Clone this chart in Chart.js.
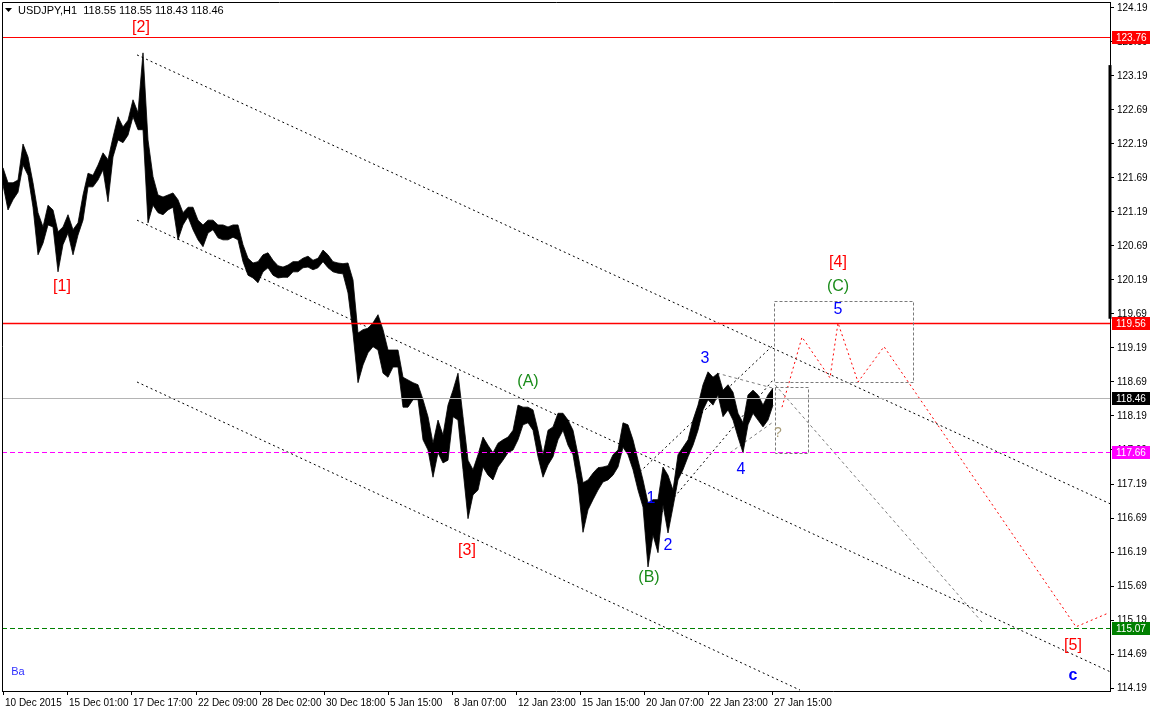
<!DOCTYPE html>
<html>
<head>
<meta charset="utf-8">
<script src="https://cdn.jsdelivr.net/npm/chart.js@4.4.0/dist/chart.umd.min.js"></script>
<style>
  html, body { margin: 0; padding: 0; background: #fff; }
</style>
</head>
<body>
<canvas id="myChart" width="1150" height="713"></canvas>
<script>
// USDJPY H1 - wave count chart

// ✅ Price data (high / low every 5 bars)
const firstBar = 1;
const barStep = 5;
const highs = [
  121.84, 121.62, 121.62, 121.66, 122.19, 122.00, 121.62, 121.18, 120.97, 121.29,
  121.22, 120.90, 120.97, 121.15, 120.93, 121.03, 121.44, 121.76, 121.73, 121.88,
  122.06, 121.96, 122.29, 122.59, 122.44, 122.54, 122.84, 122.65, 123.53, 122.25,
  121.71, 121.44, 121.41, 121.44, 121.47, 121.37, 121.18, 121.26, 121.26, 121.07,
  121.00, 121.07, 121.07, 121.00, 121.00, 120.97, 121.00, 121.00, 120.71, 120.51,
  120.44, 120.46, 120.56, 120.59, 120.48, 120.40, 120.38, 120.41, 120.46, 120.46,
  120.51, 120.54, 120.48, 120.51, 120.63, 120.56, 120.46, 120.44, 120.43, 120.44,
  120.19, 119.41, 119.46, 119.48, 119.56, 119.68, 119.46, 119.16, 119.16, 119.16,
  118.76, 118.72, 118.68, 118.65, 118.43, 118.18, 117.79, 118.13, 117.91, 118.35,
  118.57, 118.82, 118.18, 117.54, 117.40, 117.62, 117.88, 117.76, 117.65, 117.79,
  117.84, 117.88, 117.98, 118.35, 118.32, 118.32, 118.28, 117.98, 117.62, 117.98,
  118.03, 118.23, 118.23, 118.13, 117.98, 117.62, 117.21, 117.25, 117.35, 117.43,
  117.44, 117.46, 117.62, 117.69, 118.09, 118.06, 117.84, 117.54, 117.25, 116.91,
  116.96, 116.96, 117.44, 117.32, 117.10, 117.62, 117.73, 117.84, 118.13, 118.35,
  118.65, 118.84, 118.76, 118.82, 118.57, 118.65, 118.54, 118.23, 118.09, 118.50,
  118.57, 118.50, 118.35, 118.50, 118.60
];
const lows = [
  121.59, 121.22, 121.37, 121.48, 121.88, 121.73, 121.26, 120.56, 120.73, 121.00,
  120.97, 120.31, 120.71, 120.88, 120.56, 120.85, 121.07, 121.56, 121.56, 121.66,
  121.81, 121.34, 122.00, 122.25, 122.21, 122.32, 122.59, 122.40, 122.40, 121.03,
  121.29, 121.18, 121.15, 121.22, 121.26, 120.78, 121.00, 121.12, 120.93, 120.78,
  120.68, 120.88, 120.93, 120.81, 120.78, 120.78, 120.82, 120.78, 120.46, 120.26,
  120.22, 120.15, 120.31, 120.37, 120.26, 120.22, 120.23, 120.23, 120.31, 120.31,
  120.37, 120.38, 120.34, 120.37, 120.46, 120.37, 120.31, 120.29, 120.28, 120.00,
  119.41, 118.68, 118.94, 119.12, 119.21, 119.16, 118.82, 118.76, 118.91, 118.91,
  118.32, 118.32, 118.43, 118.43, 117.84, 117.69, 117.29, 117.65, 117.50, 117.54,
  118.18, 118.13, 117.40, 116.68, 117.03, 117.10, 117.44, 117.32, 117.25, 117.44,
  117.54, 117.65, 117.69, 117.84, 118.06, 118.09, 117.98, 117.59, 117.29, 117.47,
  117.59, 117.84, 117.98, 117.76, 117.62, 117.18, 116.48, 116.81, 116.96, 117.10,
  117.22, 117.25, 117.32, 117.44, 117.73, 117.62, 117.40, 117.10, 116.85, 115.97,
  116.44, 116.18, 116.88, 116.47, 116.85, 117.25, 117.40, 117.59, 117.76, 117.98,
  118.28, 118.43, 118.35, 118.50, 118.18, 118.28, 118.13, 117.88, 117.65, 118.06,
  118.23, 118.13, 118.03, 118.13, 118.35
];

// ✅ Axes
const priceTicks = [114.19, 114.69, 115.19, 115.69, 116.19, 116.69, 117.19, 117.69, 118.19, 118.69,
  119.19, 119.69, 120.19, 120.69, 121.19, 121.69, 122.19, 122.69, 123.19, 123.69, 124.19];
const timeTickBars = [1, 65, 129, 194, 258, 322, 386, 450, 514, 578, 642, 706, 770];
const timeTickLabels = ["10 Dec 2015", "15 Dec 01:00", "17 Dec 17:00", "22 Dec 09:00", "28 Dec 02:00",
  "30 Dec 18:00", "5 Jan 15:00", "8 Jan 07:00", "12 Jan 23:00", "15 Jan 15:00", "20 Jan 07:00",
  "22 Jan 23:00", "27 Jan 15:00"];

// ✅ Horizontal levels
const levelPrices = [123.76, 119.56, 118.46, 117.66, 115.07];
const levelColors = ["rgb(255,0,0)", "rgb(255,0,0)", "rgb(180,180,180)", "rgb(255,0,255)", "rgb(0,128,0)"];
const levelBoxColors = ["#ff0000", "#ff0000", "#000000", "#ff00ff", "#008000"];
const levelWidths = [1, 1.5, 1, 1, 1];
const levelDashes = [[], [], [], [5, 3], [5, 3]];

// ✅ Trend lines [bar1, price1, bar2, price2]
const channelLines = [
  [135, 123.50, 1108, 116.90],
  [135, 121.07, 1108, 114.43],
  [135, 118.69, 798, 114.16],
  [638, 117.37, 771, 119.23],
  [653, 116.66, 771, 118.72],
];
const greyLines = [
  [715, 118.82, 771, 118.60],
  [773, 118.65, 980, 115.16],
  [728, 117.65, 771, 118.10],
];
// Forecast path
const forecastBars = [780, 800, 828, 836, 856, 882, 1074, 1106];
const forecastPrices = [118.32, 119.35, 118.75, 119.56, 118.69, 119.21, 115.09, 115.29];
// Target boxes [bar1, priceTop, bar2, priceBottom]
const targetBoxes = [
  [772, 119.88, 911, 118.69],
  [773, 118.62, 806, 117.65],
];

// ✅ Wave labels
const waveTexts = ["[2]", "[1]", "[3]", "[4]", "(C)", "5", "3", "1", "2", "4", "(A)", "(B)", "?", "[5]", "c", "Ba"];
const waveBars = [139, 60, 465, 836, 836, 836, 703, 649, 666, 739, 526, 647, 776, 1071, 1071, 16];
const wavePrices = [123.90, 120.10, 116.21, 120.44, 120.10, 119.76, 119.04, 116.98, 116.28, 117.40,
  118.69, 115.81, 117.94, 114.82, 114.37, 114.42];
const waveColors = ["#ff0000", "#ff0000", "#ff0000", "#ff0000", "#1a8c1a", "#0000ff", "#0000ff", "#0000ff",
  "#0000ff", "#0000ff", "#1a8c1a", "#1a8c1a", "#a89c78", "#ff0000", "#0000ff", "#3030ff"];

const header = "USDJPY,H1  118.55 118.55 118.43 118.46";
const FONT = "'Liberation Sans', Arial, sans-serif";

const toPoints = (values) => values.map((v, i) => ({ x: firstBar + i * barStep, y: v }));
const segment = (l) => [{ x: l[0], y: l[1] }, { x: l[2], y: l[3] }];

const datasets = [
  { data: toPoints(highs), borderColor: "#000", borderWidth: 0.8, pointRadius: 0, fill: false },
  { data: toPoints(lows), borderColor: "#000", borderWidth: 0.8, pointRadius: 0, fill: "-1", backgroundColor: "#000" },
];
channelLines.forEach((l) => datasets.push({
  data: segment(l), borderColor: "#000", borderWidth: 1, borderDash: [2, 3], pointRadius: 0, fill: false,
}));
greyLines.forEach((l) => datasets.push({
  data: segment(l), borderColor: "#7a7a7a", borderWidth: 1, borderDash: [3, 3], pointRadius: 0, fill: false,
}));
datasets.push({
  data: forecastBars.map((b, i) => ({ x: b, y: forecastPrices[i] })),
  borderColor: "#ff0000", borderWidth: 1, borderDash: [2, 3], pointRadius: 0, fill: false,
});

// Drawing helpers for levels, boxes and labels
const overlay = {
  id: "overlay",
  afterDatasetsDraw(chart) {
    const { ctx, chartArea: a, scales: { x, y } } = chart;
    ctx.save();
    // horizontal levels
    levelPrices.forEach((p, i) => {
      const py = Math.round(y.getPixelForValue(p)) + 0.5;
      ctx.strokeStyle = levelColors[i];
      ctx.lineWidth = levelWidths[i];
      ctx.setLineDash(levelDashes[i]);
      ctx.beginPath();
      ctx.moveTo(a.left, py);
      ctx.lineTo(a.right, py);
      ctx.stroke();
    });
    // target boxes
    ctx.strokeStyle = "#7a7a7a";
    ctx.lineWidth = 1;
    ctx.setLineDash([3, 2]);
    targetBoxes.forEach((b) => {
      const x1 = Math.round(x.getPixelForValue(b[0])) + 0.5;
      const x2 = Math.round(x.getPixelForValue(b[2])) + 0.5;
      const y1 = Math.round(y.getPixelForValue(b[1])) + 0.5;
      const y2 = Math.round(y.getPixelForValue(b[3])) + 0.5;
      ctx.strokeRect(x1, y1, x2 - x1, y2 - y1);
    });
    ctx.setLineDash([]);
    // wave labels
    ctx.textAlign = "center";
    ctx.textBaseline = "middle";
    waveTexts.forEach((t, i) => {
      let f = "16px " + FONT;
      if (t === "c") f = "bold 16px " + FONT;
      if (t === "Ba") f = "11px " + FONT;
      if (t === "?") f = "14px " + FONT;
      ctx.font = f;
      ctx.fillStyle = waveColors[i];
      ctx.fillText(t, x.getPixelForValue(waveBars[i]), y.getPixelForValue(wavePrices[i]));
    });
    ctx.restore();
  },
  afterDraw(chart) {
    const { ctx, chartArea: a, scales: { y } } = chart;
    ctx.save();
    // frame
    ctx.strokeStyle = "#000";
    ctx.lineWidth = 1;
    ctx.beginPath();
    ctx.moveTo(a.left + 0.5, a.bottom);
    ctx.lineTo(a.left + 0.5, a.top + 0.5);
    ctx.lineTo(a.right, a.top + 0.5);
    ctx.stroke();
    // scroll marker on price axis
    ctx.lineWidth = 3;
    ctx.beginPath();
    ctx.moveTo(a.right, y.getPixelForValue(123.35));
    ctx.lineTo(a.right, y.getPixelForValue(119.62));
    ctx.stroke();
    // price boxes
    ctx.font = "10px " + FONT;
    ctx.textAlign = "left";
    ctx.textBaseline = "middle";
    levelPrices.forEach((p, i) => {
      const py = Math.round(y.getPixelForValue(p));
      ctx.fillStyle = levelBoxColors[i];
      ctx.fillRect(a.right + 2, py - 6, 38, 13);
      ctx.fillStyle = "#fff";
      ctx.fillText(p.toFixed(2), a.right + 6, py + 1);
    });
    // header
    ctx.fillStyle = "#000";
    ctx.beginPath();
    ctx.moveTo(5, 8);
    ctx.lineTo(12, 8);
    ctx.lineTo(8.5, 12);
    ctx.closePath();
    ctx.fill();
    ctx.font = "11px " + FONT;
    ctx.fillText(header, 18, 11);
    ctx.restore();
  },
};

// ✅ Config
const config = {
  type: "line",
  data: { datasets: datasets },
  options: {
    responsive: false,
    animation: false,
    layout: { padding: { left: 2, top: 2, right: 0, bottom: 0 } },
    plugins: { legend: { display: false }, tooltip: { enabled: false } },
    scales: {
      x: {
        type: "linear",
        min: 0,
        max: 1108,
        afterBuildTicks: (s) => { s.ticks = timeTickBars.map((v) => ({ value: v })); },
        afterFit: (s) => { s.height = 22; s.paddingLeft = 0; s.paddingRight = 0; },
        grid: { drawOnChartArea: false, tickLength: 4, color: "#000" },
        border: { color: "#000" },
        ticks: {
          autoSkip: false, maxRotation: 0, align: "start", labelOffset: 2, padding: 2,
          color: "#000", font: { family: FONT, size: 10 },
          callback: (v, i) => timeTickLabels[i],
        },
      },
      y: {
        position: "right",
        min: 114.146,
        max: 124.278,
        afterBuildTicks: (s) => { s.ticks = priceTicks.map((v) => ({ value: v })); },
        afterFit: (s) => { s.width = 40; s.paddingTop = 0; s.paddingBottom = 0; },
        grid: { drawOnChartArea: false, tickLength: 4, color: "#000" },
        border: { color: "#000" },
        ticks: {
          crossAlign: "near", padding: 3, color: "#000", font: { family: FONT, size: 10 },
          callback: (v) => v.toFixed(2),
        },
      },
    },
  },
  plugins: [overlay],
};

// ✅ Create chart
new Chart(document.getElementById("myChart"), config);
</script>
</body>
</html>
